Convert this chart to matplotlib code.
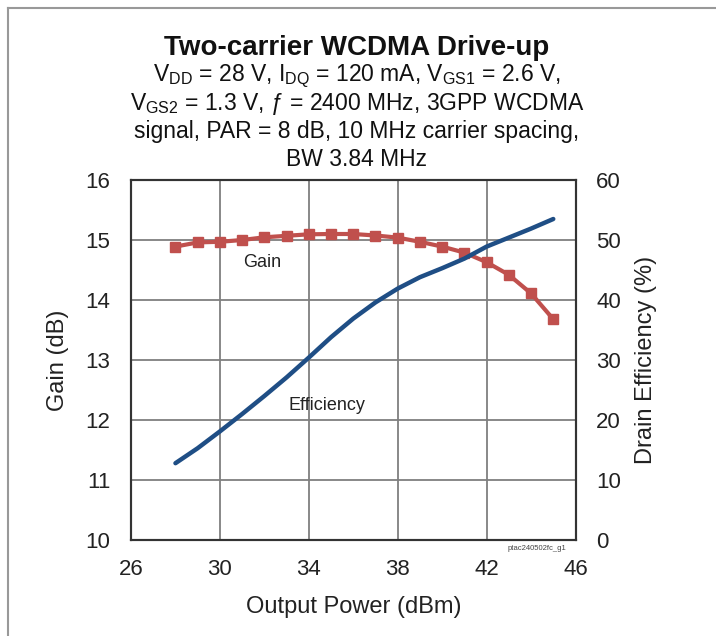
import matplotlib
matplotlib.use("Agg")
import matplotlib.pyplot as plt
from matplotlib.lines import Line2D

plt.rcParams['font.family'] = ['Liberation Sans', 'DejaVu Sans']
plt.rcParams['mathtext.fontset'] = 'custom'
plt.rcParams['mathtext.rm'] = 'Liberation Sans'
plt.rcParams['mathtext.it'] = 'Liberation Sans:italic'

# Data
pout = [28, 29, 30, 31, 32, 33, 34, 35, 36, 37, 38, 39, 40, 41, 42, 43, 44, 45]
gain = [14.89, 14.96, 14.97, 15.00, 15.045, 15.07, 15.095, 15.10, 15.10,
        15.075, 15.04, 14.97, 14.89, 14.79, 14.63, 14.42, 14.11, 13.68]
efficiency = [12.8, 15.3, 18.1, 21.0, 24.0, 27.1, 30.4, 33.8, 36.9,
              39.6, 41.9, 43.8, 45.3, 46.9, 48.9, 50.4, 51.9, 53.5]
x_ticks = [26, 30, 34, 38, 42, 46]
gain_ticks = [10, 11, 12, 13, 14, 15, 16]
eff_ticks = [0, 10, 20, 30, 40, 50, 60]

title = "Two-carrier WCDMA Drive-up"
subtitle_lines = [
    "V$_{\\mathrm{DD}}$ = 28 V, I$_{\\mathrm{DQ}}$ = 120 mA, V$_{\\mathrm{GS1}}$ = 2.6 V,",
    "V$_{\\mathrm{GS2}}$ = 1.3 V, ƒ = 2400 MHz, 3GPP WCDMA",
    "signal, PAR = 8 dB, 10 MHz carrier spacing,",
    "BW 3.84 MHz",
]

W, H = 716, 636
fig = plt.figure(figsize=(W / 100, H / 100), dpi=100)
ax = fig.add_axes([131 / W, 1 - 540 / H, (575.5 - 131) / W, 360 / H])
ax2 = ax.twinx()

grid_c = '#7f7f7f'
txt_c = '#222222'
ax.set_xlim(26, 46)
ax.set_ylim(10, 16)
ax2.set_ylim(0, 60)
ax.set_xticks(x_ticks)
ax.set_yticks(gain_ticks)
ax2.set_yticks(eff_ticks)
ax.grid(True, color=grid_c, linewidth=1.3)
ax.set_axisbelow(True)
for a in (ax, ax2):
    a.tick_params(length=0, labelsize=16, colors=txt_c, pad=15)
    for s in a.spines.values():
        s.set_color('#333333')
        s.set_linewidth(1.5)
ax.tick_params(axis='x', pad=14)

ax.plot(pout, gain, color='#c0504d', linewidth=3, marker='s', markersize=6.5, zorder=3)
ax2.plot(pout, efficiency, color='#1f4e85', linewidth=3.2, solid_capstyle='round',
         solid_joinstyle='round', zorder=3)

ax.text(31.9, 14.62, "Gain", fontsize=13, color=txt_c, ha='center', va='center')
ax.text(34.8, 12.25, "Efficiency", fontsize=13, color=txt_c, ha='center', va='center')

ax.set_xlabel("Output Power (dBm)", fontsize=17, color=txt_c, labelpad=11)
ax.set_ylabel("Gain (dB)", fontsize=17, color=txt_c, labelpad=12)
ax2.set_ylabel("Drain Efficiency (%)", fontsize=17, color=txt_c, labelpad=10)

fig.text(357 / W, 1 - 48 / H, title, fontsize=20, fontweight='bold',
         ha='center', va='center', color='#111111')
for i, line in enumerate(subtitle_lines):
    fig.text(357 / W, 1 - (76 + 28 * i) / H, line, fontsize=16.5, ha='center',
             va='center', color='#111111')
fig.text(537 / W, 1 - 548 / H, "ptac240502fc_g1", fontsize=5.5, ha='center',
         va='center', color='#444444')

# outer frame (top and left)
fig.add_artist(Line2D([8 / W, 1], [1 - 8 / H, 1 - 8 / H], color='#999999', linewidth=1.5,
                      transform=fig.transFigure))
fig.add_artist(Line2D([8 / W, 8 / W], [1 - 8 / H, 0], color='#999999', linewidth=1.5,
                      transform=fig.transFigure))

fig.savefig("out.png", dpi=100)
